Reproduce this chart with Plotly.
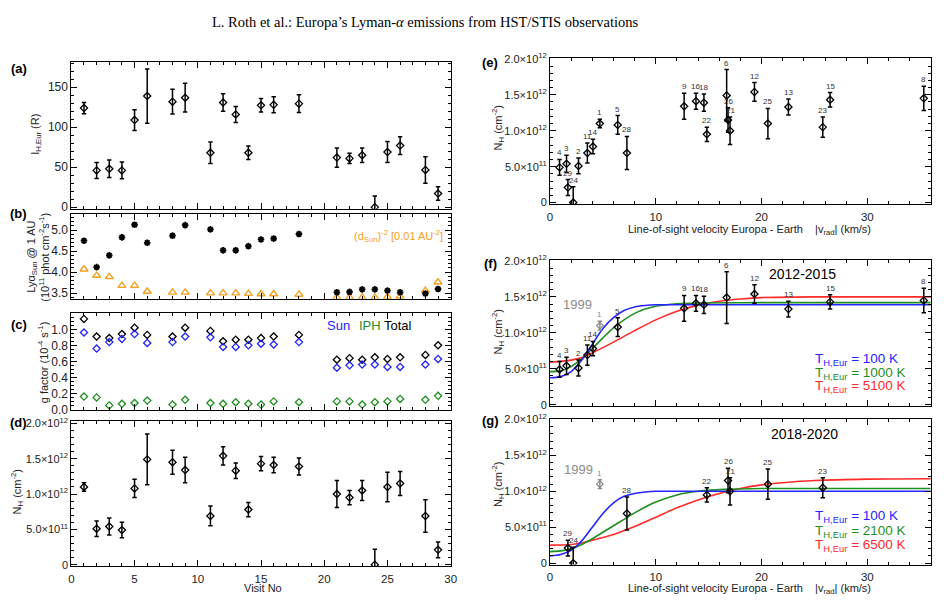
import plotly.graph_objects as go

W, H = 944, 608
E12 = 1e12

# ---------------- data ----------------
visits = [1, 2, 3, 4, 5, 6, 8, 9, 11, 12, 13, 14, 15, 16, 18, 21, 22, 23, 24, 25, 26, 28, 29]
vrad = [4.71, 2.69, 1.56, 0.90, 6.40, 16.70, 35.34, 12.68, 3.53, 19.33, 22.54, 4.06,
        26.48, 13.80, 14.55, 17.02, 14.83, 25.79, 2.19, 20.60, 16.83, 7.27, 1.69]
nh = [1.10, 0.51, 0.54, 0.49, 1.08, 1.49, 1.45, 1.34, 0.69, 1.54, 1.33, 0.78,
      1.43, 1.41, 1.39, 1.00, 0.95, 1.05, 0.0, 1.10, 1.15, 0.69, 0.21]  # 1e12 cm^-2
nh_err = [0.06, 0.11, 0.12, 0.11, 0.13, 0.36, 0.17, 0.18, 0.14, 0.13, 0.11, 0.10,
          0.10, 0.11, 0.12, 0.19, 0.10, 0.14, 0.22, 0.21, 0.17, 0.23, 0.11]
inten = [124, 46, 48, 46, 109, 139, 132, 137, 68, 131, 116, 68, 127.5, 128, 129.5,
         62, 61, 65, 0, 69, 77, 46.5, 17]
inten_err = [7, 10, 11, 10.5, 13, 34, 15.5, 18, 13.5, 11, 10, 8.5, 8.5, 10, 11,
             12, 6.5, 9, 14, 13, 11, 16.5, 8.5]
lya_sun = [4.75, 4.12, 4.40, 4.83, 5.13, 4.70, 4.87, 5.12, 5.02, 4.52, 4.52, 4.62,
           4.78, 4.80, 4.91, 3.52, 3.53, 3.59, 3.59, 3.56, 3.52, 3.49, 3.60]
dsun_inv2 = [4.07, 3.92, 3.89, 3.68, 3.68, 3.54, 3.52, 3.52, 3.50, 3.50, 3.50, 3.49,
             3.48, 3.48, 3.47, 3.40, 3.40, 3.40, 3.40, 3.41, 3.42, 3.56, 3.76]
g_total = [1.13, 0.91, 0.89, 0.94, 1.02, 0.93, 0.91, 1.02, 0.98, 0.85, 0.87, 0.87,
           0.89, 0.91, 0.93, 0.62, 0.64, 0.62, 0.65, 0.63, 0.65, 0.68, 0.80]
g_sun = [0.96, 0.76, 0.84, 0.88, 0.94, 0.83, 0.84, 0.91, 0.90, 0.78, 0.78, 0.80,
         0.82, 0.81, 0.84, 0.52, 0.55, 0.56, 0.56, 0.53, 0.53, 0.56, 0.63]
g_iph = [0.16, 0.15, 0.05, 0.07, 0.08, 0.11, 0.06, 0.12, 0.08, 0.07, 0.09, 0.07,
         0.06, 0.10, 0.09, 0.10, 0.10, 0.06, 0.09, 0.10, 0.13, 0.12, 0.17]

# model curves (f) and (g), N_H in 1e12
f_blue_x = [0, 1, 2, 3, 4, 5, 6, 7, 8, 9, 10, 12, 20, 36]
f_blue_y = [0.375, 0.39, 0.46, 0.62, 0.84, 1.06, 1.21, 1.31, 1.36, 1.38, 1.39, 1.39, 1.39, 1.39]
f_green_x = [0, 1, 2, 3, 4, 5, 6, 7, 8, 9, 10, 12, 14, 20, 36]
f_green_y = [0.46, 0.47, 0.53, 0.64, 0.78, 0.93, 1.07, 1.18, 1.27, 1.33, 1.37, 1.405, 1.415, 1.42, 1.42]
f_red_x = [0, 2, 3, 4, 6, 8, 10, 12, 14, 16, 18, 20, 25, 36]
f_red_y = [0.59, 0.62, 0.655, 0.72, 0.87, 1.03, 1.18, 1.30, 1.385, 1.44, 1.47, 1.49, 1.50, 1.50]

g_blue_x = [0, 1, 2, 3, 4, 5, 6, 7, 8, 9, 10, 12, 36]
g_blue_y = [0.10, 0.12, 0.18, 0.31, 0.50, 0.69, 0.84, 0.93, 0.97, 0.99, 1.0, 1.0, 1.0]
g_green_x = [0, 1, 2, 3, 4, 5, 6, 7, 8, 10, 12, 14, 17, 20, 36]
g_green_y = [0.16, 0.17, 0.20, 0.26, 0.34, 0.43, 0.52, 0.61, 0.70, 0.85, 0.95, 1.0, 1.03, 1.04, 1.04]
g_red_x = [0, 2, 3, 4, 6, 8, 10, 12, 14, 16, 18, 20, 22, 25, 30, 36]
g_red_y = [0.25, 0.26, 0.28, 0.32, 0.40, 0.51, 0.64, 0.77, 0.88, 0.97, 1.04, 1.09, 1.12, 1.15, 1.17, 1.175]

f_legend = ["100", "1000", "5100"]
g_legend = ["100", "2100", "6500"]

BLUE = "#2424ff"
GREEN = "#1f8f1f"
RED = "#ff2a2a"
ORANGE = "#f5a01e"
GRAY = "#8c8c8c"
FONT = "Liberation Sans"

fig = go.Figure()


def err_trace(x, y, e, xa, ya, color="black", symbol="diamond-open", size=5.5):
    return go.Scatter(
        x=x, y=y, mode="markers", xaxis=xa, yaxis=ya, showlegend=False,
        marker=dict(symbol=symbol, size=size, color=color, line=dict(width=1.3, color=color)),
        error_y=dict(type="data", array=e, symmetric=True, color=color, thickness=1.5, width=2.2),
    )


# (a)
fig.add_trace(err_trace(visits, inten, inten_err, "x", "y"))
# (b)
fig.add_trace(go.Scatter(x=visits, y=dsun_inv2, mode="markers", xaxis="x2", yaxis="y2", showlegend=False,
                         marker=dict(symbol="triangle-up-open", size=7, color=ORANGE, line=dict(width=1.4, color=ORANGE))))
fig.add_trace(go.Scatter(x=visits, y=lya_sun, mode="markers", xaxis="x2", yaxis="y2", showlegend=False,
                         marker=dict(symbol="asterisk-open", size=5.5, color="black", line=dict(width=1.8, color="black"))))
# (c)
for arr, col in [(g_total, "black"), (g_sun, BLUE), (g_iph, GREEN)]:
    fig.add_trace(go.Scatter(x=visits, y=arr, mode="markers", xaxis="x3", yaxis="y3", showlegend=False,
                             marker=dict(symbol="diamond-open", size=5.5, color=col, line=dict(width=1.3, color=col))))
# (d)
fig.add_trace(err_trace(visits, [v * E12 for v in nh], [v * E12 for v in nh_err], "x4", "y4"))
# (e)
fig.add_trace(err_trace(vrad, [v * E12 for v in nh], [v * E12 for v in nh_err], "x5", "y5"))

# (f) and (g)
idx_f = [i for i, v in enumerate(visits) if 2 <= v <= 18]
idx_g = [i for i, v in enumerate(visits) if v >= 21]
i1 = visits.index(1)

for (cx, cy, col) in [(f_red_x, f_red_y, RED), (f_green_x, f_green_y, GREEN), (f_blue_x, f_blue_y, BLUE)]:
    fig.add_trace(go.Scatter(x=cx, y=[v * E12 for v in cy], mode="lines", xaxis="x6", yaxis="y6",
                             showlegend=False, line=dict(color=col, width=1.6, shape="spline", smoothing=0.8)))
for (cx, cy, col) in [(g_red_x, g_red_y, RED), (g_green_x, g_green_y, GREEN), (g_blue_x, g_blue_y, BLUE)]:
    fig.add_trace(go.Scatter(x=cx, y=[v * E12 for v in cy], mode="lines", xaxis="x7", yaxis="y7",
                             showlegend=False, line=dict(color=col, width=1.6, shape="spline", smoothing=0.8)))

for xa, ya, idx in [("x6", "y6", idx_f), ("x7", "y7", idx_g)]:
    fig.add_trace(err_trace([vrad[i1]], [nh[i1] * E12], [nh_err[i1] * E12], xa, ya, color=GRAY, size=5))
    fig.add_trace(err_trace([vrad[i] for i in idx], [nh[i] * E12 for i in idx],
                            [nh_err[i] * E12 for i in idx], xa, ya))

# ---------------- axes ----------------
def ydom(top, bot):
    return [1 - bot / H, 1 - top / H]


LXD = [69 / W, 452 / W]
RXD = [552.3 / W, 936.7 / W]
TICKFONT = dict(family=FONT, size=12, color="#222")
XTICKFONT = dict(family=FONT, size=11.5, color="#222")


def base_axis(**kw):
    d = dict(showline=True, linecolor="black", linewidth=1, mirror="allticks", ticks="inside",
             ticklen=6, tickwidth=1, tickcolor="black", showgrid=False, zeroline=False,
             tickfont=TICKFONT)
    d.update(kw)
    return d


def minor(dt):
    return dict(ticks="inside", ticklen=3, dtick=dt, tickcolor="black", tickwidth=1, showgrid=False)


nh_ticks = [0, 0.5e12, 1.0e12, 1.5e12, 2.0e12]
nh_text = ["0", "5.0×10<sup>11</sup>", "1.0×10<sup>12</sup>", "1.5×10<sup>12</sup>", "2.0×10<sup>12</sup>"]
NHR = [-0.02e12, 2.01e12]

layout_axes = {}
left_panels = [("", ydom(56, 206.5)), ("2", ydom(211.7, 298.5)), ("3", ydom(313.5, 412.3)), ("4", ydom(424, 572.3))]
for k, (s, yd) in enumerate(left_panels):
    layout_axes["xaxis" + s] = base_axis(domain=LXD, anchor="y" + s, range=[0, 30], tick0=0, dtick=5,
                                         minor=minor(1), showticklabels=(s == "4"), ticklabelstandoff=2,
                                         tickfont=XTICKFONT)
layout_axes["yaxis"] = base_axis(domain=left_panels[0][1], anchor="x", range=[-2, 182],
                                 tickvals=[0, 50, 100, 150], minor=minor(10))
layout_axes["yaxis2"] = base_axis(domain=left_panels[1][1], anchor="x2", range=[3.37, 5.39],
                                  tickvals=[3.5, 4.0, 4.5, 5.0], ticktext=["3.5", "4.0", "4.5", "5.0"],
                                  minor=dict(ticks="inside", ticklen=3, tick0=3.5, dtick=0.1, tickcolor="black"))
layout_axes["yaxis3"] = base_axis(domain=left_panels[2][1], anchor="x3", range=[-0.005, 1.2],
                                  tickvals=[0, 0.2, 0.4, 0.6, 0.8, 1.0],
                                  ticktext=["0.0", "0.2", "0.4", "0.6", "0.8", "1.0"], minor=minor(0.05))
layout_axes["yaxis4"] = base_axis(domain=left_panels[3][1], anchor="x4", range=[-0.02e12, 2.03e12],
                                  tickvals=nh_ticks, ticktext=nh_text, minor=minor(0.1e12),
                                  tickfont=dict(family=FONT, size=11, color="#222"))

right_panels = [("5", ydom(52.3, 201.7)), ("6", ydom(259.2, 408.5)), ("7", ydom(421.5, 570.7))]
for s, yd in right_panels:
    layout_axes["xaxis" + s] = base_axis(domain=RXD, anchor="y" + s, range=[0, 36], tick0=0, dtick=10,
                                         minor=minor(2), showticklabels=(s != "6"), ticklabelstandoff=2,
                                         tickfont=XTICKFONT)
    layout_axes["yaxis" + s] = base_axis(domain=yd, anchor="x" + s, range=NHR, tickvals=nh_ticks,
                                         ticktext=nh_text, minor=minor(0.1e12),
                                         tickfont=dict(family=FONT, size=11, color="#222"))

# ---------------- annotations ----------------
ann = []


def txt(x, y, text, size=12, color="#222", angle=0, xanchor="center", bold=False, family=FONT):
    ann.append(dict(x=x / W, y=1 - y / H, xref="paper", yref="paper", text=("<b>%s</b>" % text) if bold else text,
                    showarrow=False, textangle=angle, xanchor=xanchor, yanchor="middle",
                    font=dict(family=family, size=size, color=color)))


# title
txt(426, 15, "L. Roth et al.: Europa’s Lyman-<i>α</i> emissions from HST/STIS observations", size=14.5,
    color="black", family="Liberation Serif")

# panel letters
for lab, x, y in [("(a)", 16, 63), ("(b)", 16, 211), ("(c)", 16, 325), ("(d)", 16, 425),
                  ("(e)", 492, 57), ("(f)", 492, 263), ("(g)", 492, 423)]:
    txt(x, y, lab, size=13, color="black", bold=True)

# y-axis titles
txt(33, 130, "I<sub>H,Eur</sub> (R)", size=11, angle=-90)
txt(29, 256, "Lyα<sub>Sun</sub> @ 1 AU", size=11, angle=-90)
txt(42, 256, "(10<sup>11</sup> phot cm<sup>-2</sup>s<sup>-1</sup>)", size=11, angle=-90)
txt(40, 364, "g factor (10<sup>-4</sup> s<sup>-1</sup>)", size=11, angle=-90)
txt(14, 496, "N<sub>H</sub> (cm<sup>-2</sup>)", size=11, angle=-90)
txt(500, 124, "N<sub>H</sub> (cm<sup>-2</sup>)", size=11, angle=-90)
txt(500, 333, "N<sub>H</sub> (cm<sup>-2</sup>)", size=11, angle=-90)
txt(500, 489, "N<sub>H</sub> (cm<sup>-2</sup>)", size=11, angle=-90)

# x-axis titles
txt(262, 595, "Visit No", size=11)
xt = "Line-of-sight velocity Europa - Earth &nbsp;&nbsp; |v<sub>rad</sub>| (km/s)"
txt(754, 228, xt, size=11)
txt(754, 596, xt, size=11)

# panel (b) / (c) legends
txt(352, 234, "(d<sub>Sun</sub>)<sup>-2</sup> [0.01 AU<sup>-2</sup>]", size=11, color=ORANGE, xanchor="left")
txt(325, 326, "Sun", size=13, color=BLUE, xanchor="left")
txt(357, 326, "IPH", size=13, color=GREEN, xanchor="left")
txt(383, 326, "Total", size=13, color="black", xanchor="left")

# panel (f)/(g) texts
txt(807, 273, "2012-2015", size=14, color="black")
txt(809, 437, "2018-2020", size=14, color="black")
txt(580, 305, "1999", size=13, color=GRAY)
txt(581, 473, "1999", size=13, color=GRAY)
for k, (lab, col) in enumerate(zip(f_legend, [BLUE, GREEN, RED])):
    txt(818, 361 + 13.7 * k, "T<sub>H,Eur</sub> = %s K" % lab, size=13.5, color=col, xanchor="left")
for k, (lab, col) in enumerate(zip(g_legend, [BLUE, GREEN, RED])):
    txt(818, 522 + 14.4 * k, "T<sub>H,Eur</sub> = %s K" % lab, size=13.5, color=col, xanchor="left")


# visit-number labels above error bars
def vlabel(xa, ya, i, color="#333"):
    ann.append(dict(x=vrad[i], y=(nh[i] + nh_err[i]) * E12, xref=xa, yref=ya, text=str(visits[i]),
                    showarrow=False, xanchor="center", yanchor="bottom", yshift=0,
                    font=dict(family=FONT, size=8, color=color)))


for i in range(len(visits)):
    vlabel("x5", "y5", i)
for i in idx_f:
    vlabel("x6", "y6", i)
for i in idx_g:
    vlabel("x7", "y7", i)
vlabel("x6", "y6", i1, GRAY)
vlabel("x7", "y7", i1, GRAY)

fig.update_layout(width=W, height=H, margin=dict(l=0, r=0, t=0, b=0), paper_bgcolor="white",
                  plot_bgcolor="white", showlegend=False, annotations=ann, **layout_axes)

fig.write_html("out.html")
